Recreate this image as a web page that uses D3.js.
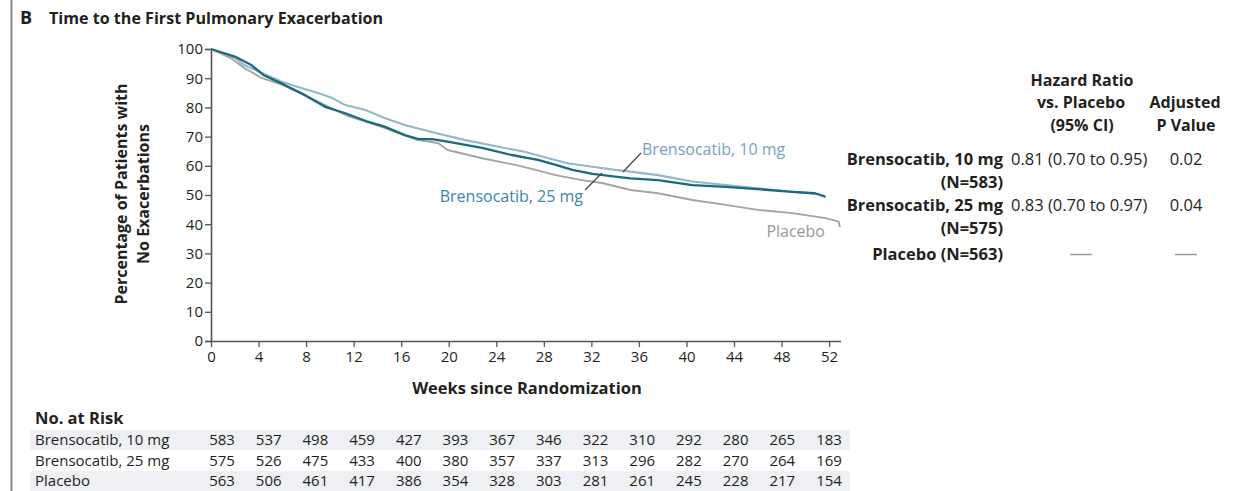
<!DOCTYPE html>
<html>
<head>
<meta charset="utf-8">
<script src="https://cdn.jsdelivr.net/npm/d3@7"></script>
<style>
  html, body { margin: 0; padding: 0; background: #fff; }
  svg { display: block; font-family: "Open Sans", "Noto Sans", sans-serif; }
</style>
</head>
<body>
<svg id="chart" width="1239" height="491"></svg>
<script>
// Kaplan-Meier estimates: [week, % without exacerbation]
const brenso10 = [
  [0, 100], [2.0, 97], [2.8, 94.5], [4.3, 91.8], [6.0, 88.7], [7.3, 87], [9.0, 84.9],
  [10.2, 83.2], [11.3, 80.8], [13.0, 79.1], [14.6, 76.4], [16.3, 74], [17.6, 72.6],
  [18.9, 71.2], [21.4, 68.8], [24.2, 66.5], [26.4, 64.8], [28.4, 62.6], [30.0, 60.9],
  [32.1, 59.7], [34.0, 58.6], [35.3, 58], [37.6, 56.8], [40.5, 54.6], [43.3, 53.4],
  [46.0, 52.3], [48.9, 51.1], [51.1, 50.3], [51.7, 49.4]
];
const brenso25 = [
  [0, 100], [2.0, 97.4], [3.4, 94.5], [4.4, 91.1], [6.2, 87.7], [7.9, 84.2], [9.6, 80.2],
  [11.3, 78], [13.2, 75.1], [14.6, 73.4], [16.3, 70.5], [17.4, 69.2], [18.6, 69.1],
  [19.9, 68.3], [22.8, 66.1], [25.3, 63.7], [27.5, 62], [29.0, 60.3], [30.4, 58.6],
  [32.1, 57.2], [34.0, 56.3], [35.3, 55.7], [37.6, 55.1], [40.5, 53.4], [43.3, 52.8],
  [46.0, 52.0], [48.9, 51.1], [50.8, 50.6], [51.7, 49.4]
];
const placebo = [
  [0, 100], [1.7, 96.8], [2.8, 93.5], [4.3, 90], [6.0, 87.7], [7.9, 84.2], [11.3, 77.4],
  [14.6, 73], [17.4, 68.8], [19.1, 67.8], [19.9, 65.4], [22.8, 62.6], [25.6, 60.3],
  [27.3, 58.6], [29.0, 56.8], [31.2, 55.1], [32.9, 54.1], [34.6, 52.4], [35.3, 51.7],
  [37.6, 50.6], [40.5, 48.3], [43.3, 46.6], [46.0, 44.9], [48.9, 43.8], [51.7, 42.1],
  [52.8, 40.9], [52.9, 39]
];

const xTicks = [0, 4, 8, 12, 16, 20, 24, 28, 32, 36, 40, 44, 48, 52];
const yTicks = [0, 10, 20, 30, 40, 50, 60, 70, 80, 90, 100];

const riskGroups = ["Brensocatib, 10 mg", "Brensocatib, 25 mg", "Placebo"];
const risk10 = [583, 537, 498, 459, 427, 393, 367, 346, 322, 310, 292, 280, 265, 183];
const risk25 = [575, 526, 475, 433, 400, 380, 357, 337, 313, 296, 282, 270, 264, 169];
const riskPlacebo = [563, 506, 461, 417, 386, 354, 328, 303, 281, 261, 245, 228, 217, 154];

const hrGroups = ["Brensocatib, 10 mg", "Brensocatib, 25 mg"];
const hrN = [583, 575];
const hrText = ["0.81 (0.70 to 0.95)", "0.83 (0.70 to 0.97)"];
const pText = ["0.02", "0.04"];
const placeboN = 563;

const svg = d3.select("#chart");
const ink = "#231f20";
const col10 = "#93b8cb", col25 = "#1b6a7f", colPl = "#a4a4a4";

// frame rule on the left edge
svg.append("line").attr("x1", 11.5).attr("x2", 11.5).attr("y1", 0).attr("y2", 491)
  .attr("stroke", "#8a8a8a").attr("stroke-width", 2);

// panel title
svg.append("text").attr("x", 20).attr("y", 24).attr("fill", ink)
  .attr("font-size", 18).attr("font-weight", 700).text("B");
svg.append("text").attr("x", 49).attr("y", 24).attr("fill", ink)
  .attr("font-size", 16.1).attr("font-weight", 700).text("Time to the First Pulmonary Exacerbation");

const x = d3.scaleLinear().domain([0, 53]).range([211, 841]);
const y = d3.scaleLinear().domain([0, 100]).range([341, 49]);

// axes
const axisColor = "#555";
const gx = svg.append("g").attr("transform", `translate(0,${y(0)})`)
  .call(d3.axisBottom(x).tickValues(xTicks).tickSize(6).tickPadding(4));
const gy = svg.append("g").attr("transform", `translate(${x(0)},0)`)
  .call(d3.axisLeft(y).tickValues(yTicks).tickSize(6).tickPadding(2));
[gx, gy].forEach(g => {
  g.select(".domain").attr("stroke", axisColor).attr("stroke-width", 1.6);
  g.selectAll(".tick line").attr("stroke", axisColor).attr("stroke-width", 1.3);
  g.selectAll(".tick text").attr("fill", ink).attr("font-size", 15)
    .attr("font-family", "Open Sans, sans-serif");
});
gx.select(".domain").attr("d", `M${x(0)},0.5H${x(53)}`);

// axis titles
svg.append("text").attr("x", 527).attr("y", 394).attr("text-anchor", "middle")
  .attr("fill", ink).attr("font-size", 16.5).attr("font-weight", 700).text("Weeks since Randomization");
const yt = svg.append("text").attr("transform", "translate(0,194) rotate(-90)")
  .attr("text-anchor", "middle").attr("fill", ink).attr("font-size", 16).attr("font-weight", 700);
yt.append("tspan").attr("x", 0).attr("y", 127).text("Percentage of Patients with");
yt.append("tspan").attr("x", 0).attr("y", 149).text("No Exacerbations");

// survival curves
const line = d3.line().x(d => x(d[0])).y(d => y(d[1])).curve(d3.curveLinear);
[[placebo, colPl, 1.9], [brenso10, col10, 2.1], [brenso25, col25, 2.3]].forEach(([data, c, w]) => {
  svg.append("path").datum(data).attr("d", line).attr("fill", "none")
    .attr("stroke", c).attr("stroke-width", w).attr("stroke-linejoin", "round");
});

// curve labels with leader lines
svg.append("text").attr("x", 642).attr("y", 155).attr("fill", "#76a4bc")
  .attr("font-size", 16).text("Brensocatib, 10 mg");
svg.append("line").attr("x1", 641).attr("y1", 153).attr("x2", 623).attr("y2", 172)
  .attr("stroke", "#444").attr("stroke-width", 1.2);
svg.append("text").attr("x", 583).attr("y", 202).attr("text-anchor", "end").attr("fill", "#3b86a6")
  .attr("font-size", 16).text("Brensocatib, 25 mg");
svg.append("line").attr("x1", 585).attr("y1", 190).attr("x2", 602).attr("y2", 173)
  .attr("stroke", "#444").attr("stroke-width", 1.2);
svg.append("text").attr("x", 825).attr("y", 237).attr("text-anchor", "end").attr("fill", "#999")
  .attr("font-size", 16).text("Placebo");

// hazard ratio table
const hdr = svg.append("g").attr("fill", ink).attr("font-size", 16).attr("font-weight", 700)
  .attr("text-anchor", "middle");
hdr.append("text").attr("x", 1082).attr("y", 86).text("Hazard Ratio");
hdr.append("text").attr("x", 1081).attr("y", 108).text("vs. Placebo");
hdr.append("text").attr("x", 1082).attr("y", 131).text("(95% CI)");
hdr.append("text").attr("x", 1185).attr("y", 108).text("Adjusted");
hdr.append("text").attr("x", 1186).attr("y", 131).text("P Value");

const rowBase = [165, 211];
hrGroups.forEach((g, i) => {
  svg.append("text").attr("x", 1003).attr("y", rowBase[i]).attr("text-anchor", "end")
    .attr("fill", ink).attr("font-size", 16.5).attr("font-weight", 700).text(g);
  svg.append("text").attr("x", 1003).attr("y", rowBase[i] + 23).attr("text-anchor", "end")
    .attr("fill", ink).attr("font-size", 16.5).attr("font-weight", 700).text(`(N=${hrN[i]})`);
  svg.append("text").attr("x", 1011).attr("y", rowBase[i]).attr("fill", ink)
    .attr("font-size", 16.5).text(hrText[i]);
  svg.append("text").attr("x", 1186).attr("y", rowBase[i]).attr("text-anchor", "middle")
    .attr("fill", ink).attr("font-size", 16.5).text(pText[i]);
});
svg.append("text").attr("x", 1003).attr("y", 260).attr("text-anchor", "end")
  .attr("fill", ink).attr("font-size", 16.5).attr("font-weight", 700).text(`Placebo (N=${placeboN})`);
[1081, 1186].forEach(cx => {
  svg.append("line").attr("x1", cx - 11).attr("x2", cx + 11).attr("y1", 254.5).attr("y2", 254.5)
    .attr("stroke", "#9a9a9a").attr("stroke-width", 1.5);
});

// numbers at risk
svg.append("text").attr("x", 35).attr("y", 424).attr("fill", ink)
  .attr("font-size", 16.5).attr("font-weight", 700).text("No. at Risk");
const riskX = d3.scaleLinear().domain([0, 52]).range([222, 829]);
const riskRows = [risk10, risk25, riskPlacebo];
const rowBaseline = [445, 465.5, 486];
riskRows.forEach((vals, i) => {
  if (i !== 1) {
    svg.append("rect").attr("x", 30).attr("y", rowBaseline[i] - 15).attr("width", 820).attr("height", 20)
      .attr("fill", "#eef0f3");
  }
  svg.append("text").attr("x", 35).attr("y", rowBaseline[i]).attr("fill", ink)
    .attr("font-size", 15).text(riskGroups[i]);
  svg.append("g").selectAll("text").data(vals).join("text")
    .attr("x", (d, j) => riskX(xTicks[j])).attr("y", rowBaseline[i])
    .attr("text-anchor", "middle").attr("fill", ink).attr("font-size", 15)
    .text(d => d);
});
</script>
</body>
</html>
